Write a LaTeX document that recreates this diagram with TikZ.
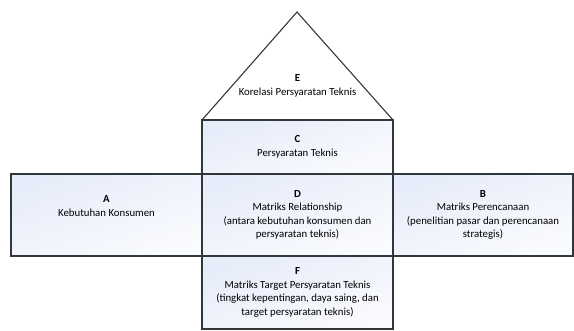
\documentclass[tikz,border=0pt]{standalone}
\usepackage{fontspec}
\setmainfont{Carlito}
\definecolor{edge}{RGB}{50,55,60}
\definecolor{shadetop}{RGB}{230,236,249}
\definecolor{shadebot}{RGB}{250,251,254}
\begin{document}
\begin{tikzpicture}[x=1pt,y=1pt,
  cell/.style={draw=edge, line width=1.1pt, rectangle, inner sep=0pt,
    top color=shadetop, bottom color=shadebot, shading angle=20,
    align=center, font=\fontsize{10.8}{13.5}\selectfont},
  lbl/.style={align=center, inner sep=0pt, font=\fontsize{10.8}{13.5}\selectfont}]
\useasboundingbox (0,0) rectangle (574,331);
% roof
\coordinate (apex) at (297,319);
\coordinate (rl) at (202,211);
\coordinate (rr) at (393,211);
\draw[edge, line width=1.1pt, line join=miter] (rl) -- (apex) -- (rr) -- cycle;
\node[lbl] (E) at (297.5,245) {\textbf{E}\\Korelasi Persyaratan Teknis};
% C
\node[cell, minimum width=191pt, minimum height=54pt] (C) at (297.5,184)
  {\textbf{C}\\Persyaratan Teknis};
% A
\node[cell, minimum width=191pt, minimum height=82pt] (A) at (106.5,116)
  {\textbf{A}\\Kebutuhan Konsumen\\[4pt]};
% D
\node[cell, minimum width=191pt, minimum height=82pt] (D) at (297.5,116)
  {\textbf{D}\\Matriks Relationship\\(antara kebutuhan konsumen dan\\persyaratan teknis)};
% B
\node[cell, minimum width=180pt, minimum height=82pt] (B) at (483,116)
  {\textbf{B}\\Matriks Perencanaan\\(penelitian pasar dan perencanaan\\strategis)};
% F
\node[cell, minimum width=191pt, minimum height=73pt] (F) at (297.5,38.5)
  {\textbf{F}\\Matriks Target Persyaratan Teknis\\(tingkat kepentingan, daya saing, dan\\target persyaratan teknis)};
\end{tikzpicture}
\end{document}
